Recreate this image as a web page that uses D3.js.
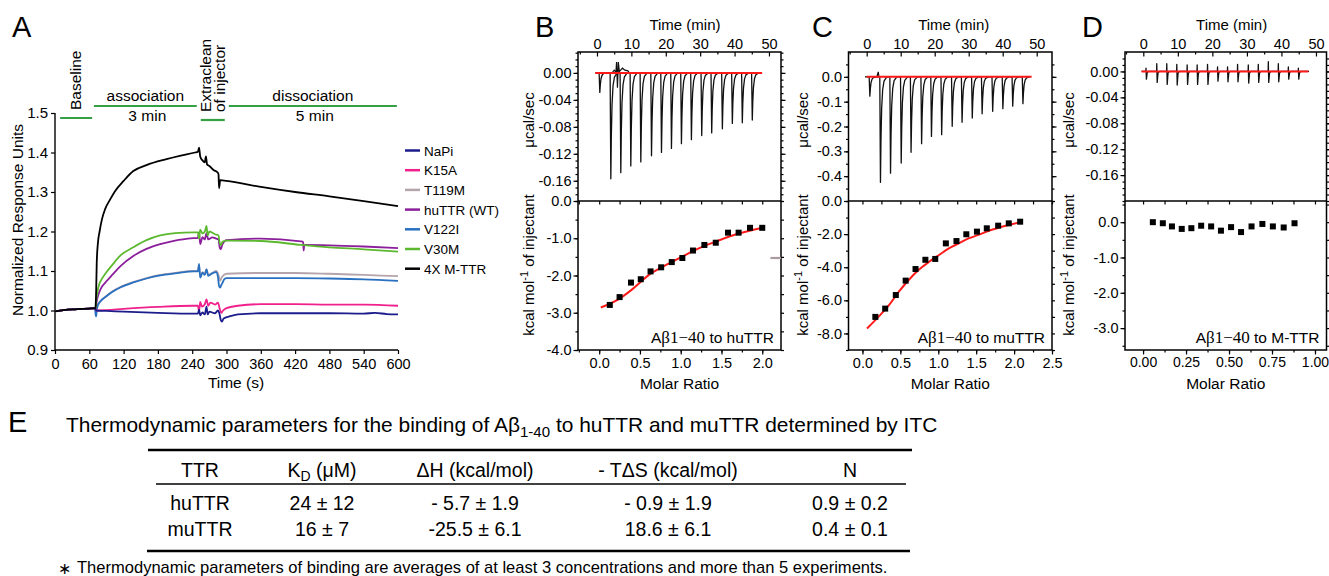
<!DOCTYPE html>
<html><head><meta charset="utf-8">
<script src="https://cdnjs.cloudflare.com/ajax/libs/d3/7.8.5/d3.min.js"></script>
<style>body{margin:0;background:#fff;} svg{display:block;}</style>
</head><body>
<script>
// ---------------- DATA ----------------
// Panel A (SPR sensorgrams): [time (s), normalized RU]
const A_SERIES = ["NaPi","K15A","T119M","huTTR (WT)","V122I","V30M","4X M-TTR"];
const A_COLORS = ["#1c1c8c","#f0208c","#b6a4ac","#8b1e9b","#2a70c0","#5cb82e","#000000"];
const BASELINE_PTS = [[0,0.998],[15,1.001],[30,1.003],[45,1.004],[60,1.005],[70,1.006]];
const NAPI_PTS = [[72,1.0],[90,0.999],[120,0.997],[180,0.994],[240,0.992],[250,0.992],[252,1.002],[254,0.988],[258,0.995],[262,0.99],[265,1.01],[267,0.99],[270,0.997],[280,0.993],[285,1.0],[288,0.99],[290,0.976],[292,0.972],[295,0.98],[305,0.985],[320,0.99],[360,0.993],[420,0.993],[480,0.993],[540,0.992],[560,0.994],[580,0.991],[600,0.99]];
const K15A_PTS = [[72,1.0],[90,1.001],[120,1.004],[180,1.009],[240,1.012],[250,1.012],[252,0.998],[254,1.022],[257,1.01],[262,1.016],[265,1.028],[268,1.012],[272,1.02],[280,1.015],[285,1.02],[288,1.005],[291,0.994],[294,1.0],[300,1.006],[320,1.012],[360,1.016],[420,1.016],[480,1.015],[540,1.015],[600,1.012]];
const T119M_PTS = [[71,1.0],[72,1.008],[75,1.015],[80,1.025],[90,1.037],[100,1.048],[115,1.06],[137,1.072],[160,1.082],[184,1.09],[210,1.095],[242,1.1],[250,1.1],[252,1.115],[254,1.085],[258,1.097],[262,1.092],[265,1.105],[268,1.09],[275,1.095],[282,1.1],[286,1.09],[289,1.075],[292,1.085],[300,1.093],[360,1.095],[420,1.095],[480,1.093],[540,1.09],[600,1.087]];
const HUTTR_PTS = [[71,1.005],[72,1.015],[74,1.03],[77,1.045],[82,1.06],[90,1.074],[100,1.09],[115,1.113],[137,1.138],[160,1.156],[184,1.168],[210,1.177],[242,1.183],[250,1.184],[252,1.198],[254,1.168],[258,1.186],[262,1.18],[265,1.196],[268,1.18],[275,1.185],[282,1.182],[286,1.18],[288,1.16],[290,1.155],[293,1.168],[300,1.178],[360,1.182],[430,1.175],[434,1.174],[435,1.152],[436,1.166],[480,1.165],[540,1.162],[600,1.158]];
const V122I_PTS = [[71,0.99],[72,0.985],[73,1.0],[75,1.013],[80,1.024],[90,1.036],[100,1.047],[115,1.059],[137,1.071],[160,1.081],[184,1.089],[210,1.094],[242,1.099],[250,1.099],[252,1.118],[254,1.083],[258,1.096],[262,1.09],[265,1.104],[268,1.088],[275,1.094],[282,1.097],[285,1.085],[287,1.062],[289,1.058],[291,1.065],[293,1.07],[296,1.079],[300,1.082],[360,1.082],[420,1.082],[480,1.081],[540,1.079],[600,1.075]];
const V30M_PTS = [[71,1.005],[72,1.025],[74,1.045],[77,1.065],[82,1.08],[90,1.097],[100,1.115],[115,1.14],[137,1.16],[160,1.178],[184,1.19],[210,1.196],[242,1.198],[250,1.198],[252,1.182],[254,1.205],[258,1.195],[262,1.2],[265,1.214],[267,1.19],[270,1.2],[280,1.193],[286,1.19],[288,1.172],[290,1.165],[293,1.174],[300,1.177],[360,1.176],[430,1.166],[480,1.16],[540,1.155],[600,1.149]];
const MTTR_PTS = [[71,1.01],[72,1.05],[73,1.12],[75,1.17],[78,1.2],[82,1.23],[88,1.258],[96,1.28],[105,1.302],[120,1.328],[137,1.353],[160,1.368],[195,1.383],[220,1.392],[245,1.4],[250,1.402],[252,1.412],[254,1.39],[258,1.38],[262,1.375],[264,1.39],[266,1.37],[270,1.366],[278,1.355],[284,1.35],[286,1.345],[287,1.31],[289,1.33],[300,1.328],[360,1.313],[420,1.3],[480,1.289],[540,1.277],[600,1.264]];
const A_X_TICKS = [0,60,120,180,240,300,360,420,480,540,600];
const A_Y_TICKS = [0.9,1.0,1.1,1.2,1.3,1.4,1.5];
const PHASE_NAMES = ["Baseline","association","Extraclean|of injector","dissociation"];
const PHASE_START = [9,68,255,304];
const PHASE_END = [65,248,297,598];
const PHASE_DURATION = ["","3 min","","5 min"];

// Panels B-D (ITC)
const B_INJ_T = [0.67,3.87,6.77,9.68,12.59,15.7,18.6,21.5,24.4,27.3,30.3,33.2,36.3,39.2,42.1,45.0];
const B_INJ_Q = [-0.029,-0.157,-0.148,-0.138,-0.132,-0.123,-0.118,-0.112,-0.105,-0.099,-0.093,-0.089,-0.083,-0.075,-0.074,-0.070];
const B_NOISE = [[4.4,0],[5.0,0.004],[5.5,0.001],[5.7,0.016],[5.95,-0.022],[6.2,0.016],[6.5,0.002],[7.4,0.007],[8.1,0.004],[9.0,0.003],[9.4,0]];
const B_MOLAR = [0.13,0.25,0.39,0.51,0.63,0.76,0.89,1.02,1.15,1.29,1.43,1.58,1.71,1.85,2.0];
const B_HEAT = [-2.79,-2.58,-2.19,-2.1,-1.89,-1.78,-1.64,-1.53,-1.33,-1.18,-1.12,-0.85,-0.85,-0.72,-0.72];
const B_FIT_X = [0.02,0.25,0.4,0.63,0.8,1.02,1.2,1.43,1.7,2.02];
const B_FIT_Y = [-2.86,-2.62,-2.38,-1.95,-1.74,-1.49,-1.29,-1.09,-0.88,-0.71];
const B_GRAY_DASH = [[2.1,-1.53],[2.23,-1.53]];

const C_INJ_T = [0.78,3.9,6.86,10.0,12.9,16.0,18.9,21.9,25.0,27.9,30.9,33.8,36.9,39.9,42.8,45.8];
const C_INJ_Q = [-0.078,-0.425,-0.388,-0.347,-0.304,-0.269,-0.24,-0.233,-0.199,-0.183,-0.166,-0.149,-0.139,-0.128,-0.118,-0.108];
const C_NOISE = [[3.0,0],[3.4,0.02],[3.6,0]];
const C_MOLAR = [0.17,0.3,0.44,0.57,0.7,0.83,0.96,1.1,1.24,1.37,1.51,1.64,1.79,1.93,2.08];
const C_HEAT = [-7.0,-6.5,-5.68,-4.81,-4.11,-3.55,-3.5,-2.56,-2.42,-2.01,-1.85,-1.65,-1.49,-1.35,-1.25];
const C_FIT_X = [0.06,0.22,0.35,0.48,0.61,0.74,0.88,1.01,1.14,1.27,1.4,1.53,1.66,1.8,1.93,2.08];
const C_FIT_Y = [-7.7,-6.95,-6.29,-5.48,-4.77,-4.17,-3.67,-3.26,-2.86,-2.56,-2.26,-2.05,-1.81,-1.61,-1.45,-1.29];

const D_INJ_T = [0.78,3.9,6.8,9.7,12.7,15.6,18.6,21.5,24.4,27.3,30.4,33.3,36.2,39.1,42.0,44.9];
const D_INJ_UP = [0.005,0.012,0.012,0.011,0.010,0.010,0.011,0.007,0.007,0.011,0.010,0.011,0.015,0.012,0.007,0.005];
const D_INJ_DOWN = [-0.012,-0.017,-0.020,-0.021,-0.020,-0.020,-0.020,-0.015,-0.016,-0.016,-0.018,-0.017,-0.017,-0.016,-0.012,-0.012];
const D_MOLAR = [0.057,0.115,0.168,0.225,0.281,0.338,0.396,0.453,0.512,0.57,0.631,0.694,0.755,0.818,0.881];
const D_HEAT = [0,-0.03,-0.12,-0.19,-0.17,-0.10,-0.12,-0.24,-0.14,-0.28,-0.12,-0.05,-0.12,-0.15,-0.03];

const TIME_TICKS = [0,10,20,30,40,50];
const B_TOP_TICKS = [0,-0.04,-0.08,-0.12,-0.16];
const C_TOP_TICKS = [0,-0.1,-0.2,-0.3,-0.4];
const D_TOP_TICKS = [0,-0.04,-0.08,-0.12,-0.16];
const B_BOT_Y_TICKS = [0,-1,-2,-3,-4];
const C_BOT_Y_TICKS = [0,-2,-4,-6,-8];
const D_BOT_Y_TICKS = [0,-1,-2,-3];
const B_X_TICKS = [0,0.5,1.0,1.5,2.0];
const C_X_TICKS = [0,0.5,1.0,1.5,2.0,2.5];
const D_X_TICKS = [0,0.25,0.5,0.75,1.0];

// Panel E (table)
const TABLE_HEAD = ["TTR","K|D|(\u03BCM)","\u0394H (kcal/mol)","- T\u0394S (kcal/mol)","N"];
const TABLE_ROWS = [
  ["huTTR","24 \u00B1 12","- 5.7 \u00B1 1.9","- 0.9 \u00B1 1.9","0.9 \u00B1 0.2"],
  ["muTTR","16 \u00B1 7","-25.5 \u00B1 6.1","18.6 \u00B1 6.1","0.4 \u00B1 0.1"]
];

// ---------------- DRAWING ----------------
const SANS = '"Liberation Sans", Arial, Helvetica, sans-serif';
const SERIF = '"Liberation Serif", "Times New Roman", serif';
const svg = d3.select("body").append("svg").attr("width",1329).attr("height",576)
  .style("font-family",SANS);
const minus = s => s.replace(/\u2212/g,"-");

function styleAxis(g, fs){
  g.attr("font-family",SANS);
  g.select(".domain").remove();
  g.selectAll("line").attr("stroke","#000").attr("stroke-width",1.2);
  g.selectAll("text").attr("font-size",fs).attr("fill","#000").attr("font-family",SANS);
}
function letter(txt,x,y){
  svg.append("text").attr("x",x).attr("y",y).attr("font-size",29).text(txt);
}

// ----- Panel A -----
letter("A",12,37);
const ax = d3.scaleLinear().domain([0,600]).range([55,398]);
const ay = d3.scaleLinear().domain([0.9,1.5]).range([350,113]);
const gA = svg.append("g");
gA.append("line").attr("x1",ax(0)).attr("x2",ax(600)).attr("y1",ay(0.9)).attr("y2",ay(0.9)).attr("stroke","#000").attr("stroke-width",1.4);
gA.append("line").attr("x1",ax(0)).attr("x2",ax(0)).attr("y1",ay(0.9)).attr("y2",ay(1.5)).attr("stroke","#000").attr("stroke-width",1.4);
gA.append("g").attr("transform",`translate(0,${ay(0.9)})`)
  .call(d3.axisBottom(ax).tickValues(A_X_TICKS).tickSize(4).tickPadding(5).tickFormat(d3.format("d")))
  .call(g=>styleAxis(g,14.5));
gA.append("g").attr("transform",`translate(${ax(0)},0)`)
  .call(d3.axisLeft(ay).tickValues(A_Y_TICKS).tickSize(4).tickPadding(3).tickFormat(d3.format(".1f")))
  .call(g=>styleAxis(g,15));
gA.append("text").attr("x",236).attr("y",388).attr("text-anchor","middle").attr("font-size",15.5).text("Time (s)");
gA.append("text").attr("transform","translate(23,220) rotate(-90)").attr("text-anchor","middle").attr("font-size",15.5).text("Normalized Response Units");

const lineA = d3.line().x(d=>ax(d[0])).y(d=>ay(d[1])).curve(d3.curveMonotoneX);
const seriesPts = [NAPI_PTS,K15A_PTS,T119M_PTS,HUTTR_PTS,V122I_PTS,V30M_PTS,MTTR_PTS];
const drawOrder = [2,4,3,5,1,0,6];
drawOrder.forEach(i=>{
  gA.append("path").datum(BASELINE_PTS.concat(seriesPts[i]))
    .attr("d",lineA).attr("fill","none").attr("stroke",A_COLORS[i]).attr("stroke-width",1.8)
    .attr("stroke-linejoin","round");
});
// phases
const GREEN = "#36a046";
const phaseY = [118,106,120,106];
PHASE_NAMES.forEach((p,i)=>{
  gA.append("line").attr("x1",ax(PHASE_START[i])).attr("x2",ax(PHASE_END[i]))
    .attr("y1",phaseY[i]).attr("y2",phaseY[i]).attr("stroke",GREEN).attr("stroke-width",2.2);
  const cx = (ax(PHASE_START[i])+ax(PHASE_END[i]))/2;
  if(i===0){
    gA.append("text").attr("transform",`translate(${cx+5},110) rotate(-90)`).attr("font-size",15.5).text(p);
  } else if(i===2){
    const parts = p.split("|");
    gA.append("text").attr("transform",`translate(${cx-1.5},112) rotate(-90)`).attr("font-size",15.5).text(parts[0]);
    gA.append("text").attr("transform",`translate(${cx+12},112) rotate(-90)`).attr("font-size",15.5).text(parts[1]);
  } else {
    gA.append("text").attr("x",cx).attr("y",101).attr("text-anchor","middle").attr("font-size",15.5).text(p);
    gA.append("text").attr("x",cx+2).attr("y",121).attr("text-anchor","middle").attr("font-size",15.5).text(PHASE_DURATION[i]);
  }
});
// legend
A_SERIES.forEach((s,i)=>{
  const y = 150.5 + i*19.7;
  gA.append("line").attr("x1",405).attr("x2",420).attr("y1",y).attr("y2",y).attr("stroke",A_COLORS[i]).attr("stroke-width",2.5);
  gA.append("text").attr("x",424).attr("y",y+5).attr("font-size",13.5).text(s);
});

// ----- ITC panels -----
const SPIKE_SHAPE = [[-0.05,0],[0.15,1],[0.3,0.6],[0.5,0.3],[0.8,0.12],[1.2,0.04],[2.0,0]];
function itc(c){
  const g = svg.append("g");
  const tx = d3.scaleLinear().domain(c.tDom).range([c.L,c.R]);
  const ty = d3.scaleLinear().domain(c.topDom).range([c.M,c.T]);
  const mx = d3.scaleLinear().domain(c.mDom).range([c.L,c.R]);
  const my = d3.scaleLinear().domain(c.botDom).range([c.B,c.M]);

  // top time axis (ticks inward)
  g.append("g").attr("transform",`translate(0,${c.T})`)
    .call(d3.axisTop(tx).tickValues(TIME_TICKS).tickSizeInner(-4.5).tickSizeOuter(0).tickPadding(3).tickFormat(d3.format("d")))
    .call(a=>styleAxis(a,14.5));
  g.append("g").attr("transform",`translate(0,${c.T})`)
    .call(d3.axisTop(tx).tickValues(d3.range(-5,54,10)).tickSizeInner(-2.5).tickSizeOuter(0).tickFormat(""))
    .call(a=>styleAxis(a,14));
  g.append("text").attr("x",(tx(0)+tx(50))/2+2).attr("y",30).attr("text-anchor","middle").attr("font-size",15).text("Time (min)");

  // top panel left axis
  g.append("g").attr("transform",`translate(${c.L},0)`)
    .call(d3.axisLeft(ty).tickValues(c.topTicks).tickSize(4.5).tickPadding(2).tickFormat(v=>minus(d3.format(c.topFmt)(v))))
    .call(a=>styleAxis(a,14.5));
  const topMinor = d3.range(c.topDom[0],c.topDom[1],c.topMinor).map(v=>Math.round(v/c.topMinor)*c.topMinor).filter(v=>v>=c.topDom[0]&&v<=c.topDom[1]);
  g.append("g").attr("transform",`translate(${c.L},0)`)
    .call(d3.axisLeft(ty).tickValues(topMinor).tickSize(2.5).tickFormat("")).call(a=>styleAxis(a,14));
  g.append("g").attr("transform",`translate(${c.R},0)`)
    .call(d3.axisLeft(ty).tickValues(topMinor).tickSize(-2.5).tickFormat("")).call(a=>styleAxis(a,14));
  g.append("g").attr("transform",`translate(${c.R},0)`)
    .call(d3.axisLeft(ty).tickValues(c.topTicks).tickSize(-4.5).tickFormat("")).call(a=>styleAxis(a,14));

  // bottom panel axes
  g.append("g").attr("transform",`translate(${c.L},0)`)
    .call(d3.axisLeft(my).tickValues(c.botTicks).tickSize(4.5).tickPadding(2).tickFormat(v=>minus(d3.format(".1f")(v))))
    .call(a=>styleAxis(a,14.5));
  const botMinor = d3.range(Math.ceil(c.botDom[0]/c.botMinor)*c.botMinor, c.botDom[1]+1e-9, c.botMinor);
  g.append("g").attr("transform",`translate(${c.L},0)`)
    .call(d3.axisLeft(my).tickValues(botMinor).tickSize(2.5).tickFormat("")).call(a=>styleAxis(a,14));
  g.append("g").attr("transform",`translate(${c.R},0)`)
    .call(d3.axisLeft(my).tickValues(botMinor).tickSize(-3).tickFormat("")).call(a=>styleAxis(a,14));
  g.append("g").attr("transform",`translate(0,${c.B})`)
    .call(d3.axisBottom(mx).tickValues(c.xTicks).tickSize(4.5).tickPadding(3).tickFormat(d3.format(c.xFmt)))
    .call(a=>styleAxis(a,c.xFs||14.5));
  const xMinor = d3.range(Math.ceil(c.mDom[0]/c.xMinor)*c.xMinor, c.mDom[1]+1e-9, c.xMinor);
  g.append("g").attr("transform",`translate(0,${c.B})`)
    .call(d3.axisBottom(mx).tickValues(xMinor).tickSize(2.5).tickFormat("")).call(a=>styleAxis(a,14));
  g.append("g").attr("transform",`translate(0,${c.M})`)
    .call(d3.axisBottom(mx).tickValues(xMinor).tickSize(3.5).tickFormat("")).call(a=>styleAxis(a,14));
  g.append("text").attr("x",(c.L+c.R)/2).attr("y",389).attr("text-anchor","middle").attr("font-size",15.5).text("Molar Ratio");

  // y labels
  g.append("text").attr("transform",`translate(${c.labX},120) rotate(-90)`).attr("text-anchor","middle").attr("font-size",15).text("\u03BCcal/sec");
  const kl = g.append("text").attr("transform",`translate(${c.labX},265) rotate(-90)`).attr("text-anchor","middle").attr("font-size",15);
  kl.append("tspan").text("kcal mol");
  kl.append("tspan").attr("dy",-6).attr("font-size",11).text("-1");
  kl.append("tspan").attr("dy",6).text(" of injectant");

  // box
  g.append("rect").attr("x",c.L).attr("y",c.T).attr("width",c.R-c.L).attr("height",c.B-c.T)
    .attr("fill","none").attr("stroke","#000").attr("stroke-width",1.5);
  g.append("line").attr("x1",c.L).attr("x2",c.R).attr("y1",c.M).attr("y2",c.M).attr("stroke","#000").attr("stroke-width",1.3);

  // thermogram
  const lt = d3.line().x(d=>tx(d[0])).y(d=>ty(d[1]));
  let pts = [[-0.5,0]];
  c.injT.forEach((t,i)=>{
    if(c.injUp){
      pts.push([t-0.05,0],[t,c.injUp[i]],[t+0.12,c.injDown[i]],[t+0.35,0.15*c.injDown[i]],[t+0.7,0]);
    } else {
      SPIKE_SHAPE.forEach(([dt,f])=>pts.push([t+dt,f*c.injQ[i]]));
    }
  });
  pts.push([48,0]);
  g.append("path").datum(pts).attr("d",lt).attr("fill","none").attr("stroke","#111").attr("stroke-width",1.3).attr("stroke-linejoin","round");
  if(c.noise) g.append("path").datum(c.noise).attr("d",lt).attr("fill","none").attr("stroke","#111").attr("stroke-width",1.2);
  g.append("path").datum([[c.redT[0],0],[c.redT[1],0]]).attr("d",lt).attr("fill","none").attr("stroke","#ff1a1a").attr("stroke-width",2);

  // binding isotherm
  if(c.fitX){
    const fit = c.fitX.map((x,i)=>[x,c.fitY[i]]);
    g.append("path").datum(fit).attr("d",d3.line().x(d=>mx(d[0])).y(d=>my(d[1])).curve(d3.curveMonotoneX))
      .attr("fill","none").attr("stroke","#ff1a1a").attr("stroke-width",2);
  }
  g.selectAll("rect.pt").data(c.molar.map((m,i)=>[m,c.heat[i]])).join("rect").attr("class","pt")
    .attr("x",d=>mx(d[0])-3).attr("y",d=>my(d[1])-3).attr("width",6).attr("height",6).attr("fill","#000");
  if(c.grayDash) g.append("path").datum(c.grayDash).attr("d",d3.line().x(d=>mx(d[0])).y(d=>my(d[1])))
    .attr("stroke","#aa9aa2").attr("stroke-width",2.2);

  // annotation
  const an = g.append("text").attr("x",c.R-7).attr("y",343).attr("text-anchor","end").attr("font-size",15.5);
  an.append("tspan").text("A");
  an.append("tspan").attr("font-family",SERIF).attr("font-size",17).text("\u03B21\u221240");
  an.append("tspan").text(" to "+c.target);

  letter(c.letter,c.letterX,37);
}

itc({letter:"B",letterX:535,L:578,R:781,T:52,M:201,B:350,labX:534,
  tDom:[-5.52,53.5],topDom:[-0.19,0.031],topTicks:B_TOP_TICKS,topFmt:".2f",topMinor:0.01,
  mDom:[-0.26,2.23],botDom:[-4.0,0.0],botTicks:B_BOT_Y_TICKS,botMinor:0.5,xTicks:B_X_TICKS,xFmt:".1f",xMinor:0.25,
  injT:B_INJ_T,injQ:B_INJ_Q,noise:B_NOISE,redT:[-0.5,48],
  molar:B_MOLAR,heat:B_HEAT,fitX:B_FIT_X,fitY:B_FIT_Y,grayDash:B_GRAY_DASH,target:"huTTR"});
itc({letter:"C",letterX:812,L:848.5,R:1052,T:52,M:201,B:350,labX:808,
  tDom:[-5.35,54.5],topDom:[-0.5,0.1],topTicks:C_TOP_TICKS,topFmt:".1f",topMinor:0.05,
  mDom:[-0.184,2.5],botDom:[-9.0,0.0],botTicks:C_BOT_Y_TICKS,botMinor:1,xTicks:C_X_TICKS,xFmt:".1f",xMinor:0.25,
  injT:C_INJ_T,injQ:C_INJ_Q,noise:C_NOISE,redT:[0,48.5],
  molar:C_MOLAR,heat:C_HEAT,fitX:C_FIT_X,fitY:C_FIT_Y,target:"muTTR"});
itc({letter:"D",letterX:1082,L:1125,R:1326.5,T:52,M:201,B:350,labX:1074,
  tDom:[-5.3,53.05],topDom:[-0.2,0.03],topTicks:D_TOP_TICKS,topFmt:".2f",topMinor:0.01,
  mDom:[-0.105,1.067],botDom:[-3.62,0.6],botTicks:D_BOT_Y_TICKS,botMinor:0.5,xTicks:D_X_TICKS,xFmt:".2f",xMinor:0.125,xFs:14,
  injT:D_INJ_T,injUp:D_INJ_UP,injDown:D_INJ_DOWN,redT:[-0.5,47.8],
  molar:D_MOLAR,heat:D_HEAT,target:"M-TTR"});

// ----- Panel E -----
letter("E",8,432);
function fitWidth(sel,target){
  const w = sel.node().getComputedTextLength();
  const fs = parseFloat(sel.attr("font-size"));
  sel.attr("font-size",fs*target/w);
}
const ttl = svg.append("text").attr("x",66).attr("y",432).attr("font-size",20);
ttl.append("tspan").text("Thermodynamic parameters for the binding of A\u03B2");
ttl.append("tspan").attr("dy","0.3em").attr("font-size","0.72em").text("1-40");
ttl.append("tspan").attr("dy","-0.22em").text(" to huTTR and muTTR determined by ITC");
fitWidth(ttl, 872);

svg.append("line").attr("x1",148).attr("x2",912).attr("y1",450).attr("y2",450).attr("stroke","#000").attr("stroke-width",2.4);
svg.append("line").attr("x1",156).attr("x2",906).attr("y1",484).attr("y2",484).attr("stroke","#000").attr("stroke-width",1.6);
svg.append("line").attr("x1",147).attr("x2",910).attr("y1",551).attr("y2",551).attr("stroke","#000").attr("stroke-width",2.4);
const COLX = [200,322,475,668,850];
const TFS = 19.5;
TABLE_HEAD.forEach((h,j)=>{
  const t = svg.append("text").attr("x",COLX[j]).attr("y",477).attr("text-anchor","middle").attr("font-size",TFS);
  if(h.includes("|")){
    const p = h.split("|");
    t.append("tspan").text(p[0]);
    t.append("tspan").attr("dy",4).attr("font-size",14).text(p[1]);
    t.append("tspan").attr("dy",-4).text(" "+p[2]);
  } else t.text(h);
});
TABLE_ROWS.forEach((r,i)=>{
  r.forEach((v,j)=>{
    svg.append("text").attr("x",COLX[j]).attr("y",510+i*26).attr("text-anchor","middle").attr("font-size",TFS).text(v);
  });
});
svg.append("text").attr("x",58).attr("y",574).attr("font-size",16).text("\u2217");
const fn = svg.append("text").attr("x",77).attr("y",573).attr("font-size",16)
  .text("Thermodynamic parameters of binding are averages of at least 3 concentrations and more than 5 experiments.");
fitWidth(fn, 811);
</script>
</body></html>
